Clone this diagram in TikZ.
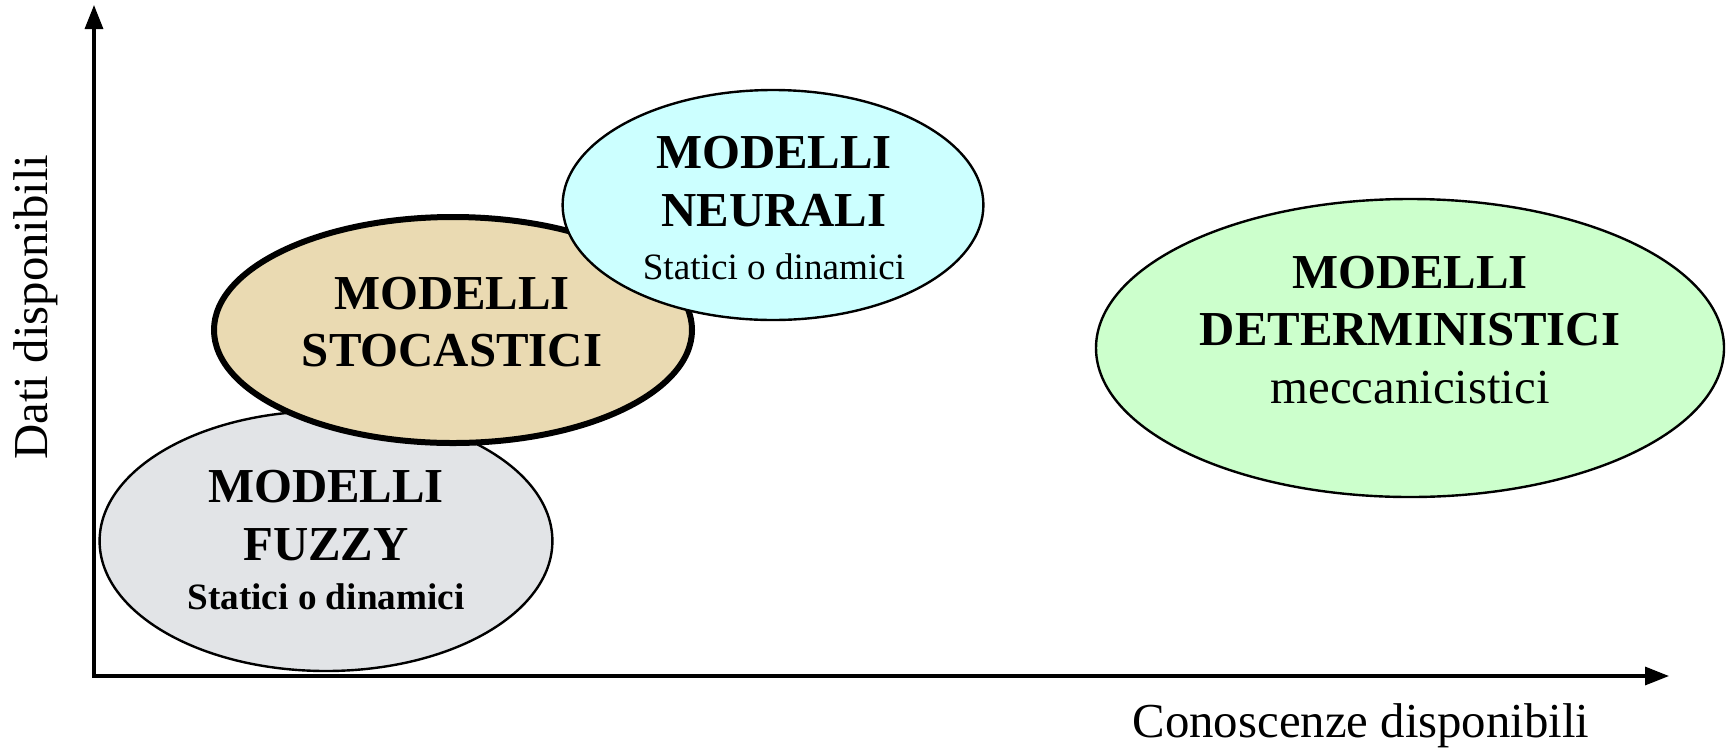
\documentclass[tikz,border=0pt]{standalone}
\usepackage{fontspec}
\setmainfont{Liberation Serif}
\usetikzlibrary{shapes.geometric,arrows.meta}

\definecolor{marble}{RGB}{226,228,231}
\definecolor{sand}{RGB}{234,218,178}
\definecolor{paleblue}{RGB}{204,255,255}
\definecolor{palegreen}{RGB}{204,255,204}

\tikzset{
  blob/.style={ellipse,draw,line width=0.6pt,inner sep=0pt},
  modeltext/.style={align=center,font=\fontsize{12.2}{14.4}\selectfont\bfseries},
  axislabel/.style={font=\fontsize{12.2}{14}\selectfont},
  axisline/.style={line width=0.8pt,{Triangle[length=6pt,width=4.5pt]}-{Triangle[length=6pt,width=4.5pt]}}
}

\begin{document}
\begin{tikzpicture}[x=0.25pt,y=-0.25pt]
\useasboundingbox (0,0) rectangle (1733,751);
% axes
\coordinate (ytip) at (94,5);
\coordinate (orig) at (94,676);
\coordinate (xtip) at (1669,676);
\draw[axisline] (ytip) -- (orig) -- (xtip);
\node[axislabel,rotate=90] (ylab) at (36,307) {Dati disponibili};
\node[axislabel] (xlab) at (1361,726) {Conoscenze disponibili};
% ellipses
\node[blob,fill=marble,minimum width=113.2pt,minimum height=65pt] (fuzzy) at (326,541) {};
\node[blob,fill=sand,line width=1.5pt,minimum width=119.5pt,minimum height=56.5pt] (stoc) at (453,330) {};
\node[blob,fill=paleblue,minimum width=105.2pt,minimum height=57.5pt] (neur) at (773,205) {};
\node[blob,fill=palegreen,minimum width=157pt,minimum height=74.5pt] (det) at (1410,348) {};
% texts
\node[modeltext] (fuzzyT) at (326,540) {MODELLI\\FUZZY\\[-2.1pt]{\fontsize{9.3}{11}\selectfont Statici o dinamici}};
\node[modeltext] (stocT) at (452,322) {MODELLI\\STOCASTICI};
\node[modeltext] (neurT) at (774,208) {MODELLI\\NEURALI\\[-1.2pt]{\fontsize{9.3}{11}\selectfont\mdseries Statici o dinamici}};
\node[modeltext] (detT) at (1410,330) {MODELLI\\DETERMINISTICI\\{\mdseries meccanicistici}};
\end{tikzpicture}
\end{document}
